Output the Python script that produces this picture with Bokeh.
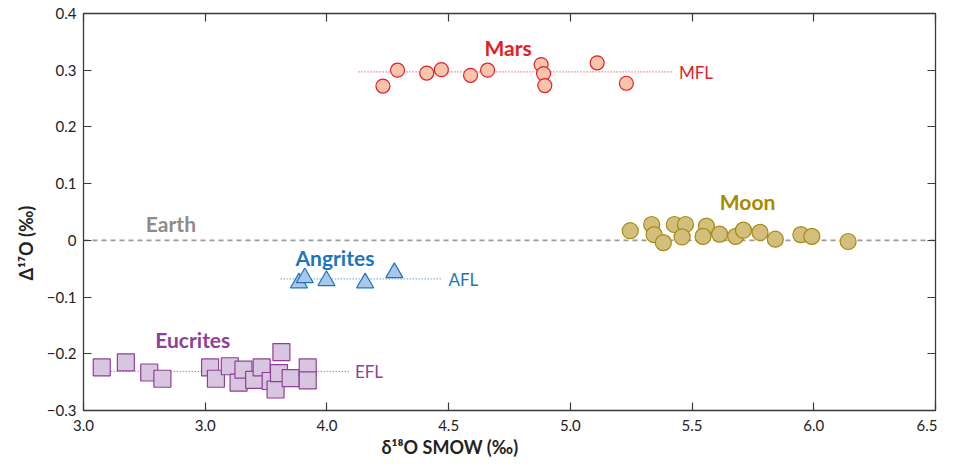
from bokeh.plotting import figure
from bokeh.models import Range1d, LinearAxis, FixedTicker, Label, Title
from bokeh.embed import file_html
from bokeh.resources import INLINE

# ---- data ----
mars_x = [4.23, 4.29, 4.41, 4.47, 4.59, 4.66, 4.88, 4.89, 4.895, 5.11, 5.23]
mars_y = [0.272, 0.300, 0.295, 0.301, 0.291, 0.300, 0.310, 0.294, 0.273, 0.313, 0.277]

moon_x = [5.246, 5.334, 5.344, 5.382, 5.427, 5.473, 5.459, 5.559, 5.545, 5.613,
          5.679, 5.711, 5.779, 5.842, 5.947, 5.992, 6.141]
moon_y = [0.017, 0.028, 0.010, -0.004, 0.028, 0.028, 0.006, 0.025, 0.007, 0.011,
          0.007, 0.018, 0.014, 0.002, 0.010, 0.007, -0.002]

angr_x = [3.885, 3.909, 3.998, 4.157, 4.277]
angr_y = [-0.075, -0.066, -0.071, -0.075, -0.057]

eucr_x = [3.075, 3.174, 3.270, 3.324, 3.520, 3.544, 3.601, 3.637, 3.657, 3.701,
          3.732, 3.769, 3.789, 3.803, 3.813, 3.851, 3.921, 3.921]
eucr_y = [-0.224, -0.215, -0.233, -0.244, -0.224, -0.244, -0.222, -0.251, -0.228, -0.246,
          -0.224, -0.248, -0.263, -0.234, -0.197, -0.243, -0.224, -0.247]

earth_x = [3.0, 6.5]
earth_y = [0.0, 0.0]
mfl_x = [4.13, 5.42]
mfl_y = [0.297, 0.297]
afl_x = [3.81, 4.47]
afl_y = [-0.068, -0.068]
efl_x = [3.05, 4.09]
efl_y = [-0.231, -0.231]

x_ticks = [3.0, 3.5, 4.0, 4.5, 5.0, 5.5, 6.0, 6.5]
x_tick_labels = ["3.0", "3.0", "4.0", "4.5", "5.0", "5.5", "6.0", "6.5"]
y_ticks = [0.4, 0.3, 0.2, 0.1, 0.0, -0.1, -0.2, -0.3]
y_tick_labels = ["0.4", "0.3", "0.2", "0.1", "0", "\u22120.1", "\u22120.2", "\u22120.3"]

x_title = "\u03b4\u00b9\u2078O SMOW (\u2030)"
y_title = "\u0394\u00b9\u2077O (\u2030)"

FONT = "Lato"
RED, RED_FILL = "#E31E25", "#F9C4AC"
GOLD, GOLD_FILL, GOLD_LINE = "#A68A00", "#D4BE7C", "#A38A12"
BLUE, BLUE_FILL = "#1C75BC", "#A9C7E8"
PURP, PURP_FILL = "#903F98", "#D8C5E0"
GRAY = "#8C8C8C"
INK = "#222222"

p = figure(width=937, height=457, output_backend="svg", toolbar_location=None,
           x_range=Range1d(3.0, 6.5), y_range=Range1d(-0.3, 0.4),
           min_border_left=83, min_border_right=2, min_border_top=13, min_border_bottom=47)
p.grid.visible = False
p.outline_line_color = "#3a3a3a"
p.outline_line_width = 1.3
p.background_fill_color = "white"
p.border_fill_color = "white"

for ax in (p.xaxis[0], p.yaxis[0]):
    ax.axis_line_color = None
    ax.major_tick_in = 8
    ax.major_tick_out = 0
    ax.minor_tick_line_color = None
    ax.major_tick_line_color = "#3a3a3a"
    ax.major_tick_line_width = 1.2
    ax.major_label_text_font = FONT
    ax.major_label_text_font_size = "15px"
    ax.major_label_text_color = INK

p.xaxis[0].ticker = FixedTicker(ticks=x_ticks)
p.xaxis[0].major_label_overrides = dict(zip(x_ticks, x_tick_labels))
p.xaxis[0].major_label_standoff = 9
p.yaxis[0].ticker = FixedTicker(ticks=y_ticks)
p.yaxis[0].major_label_overrides = dict(zip(y_ticks, y_tick_labels))
p.yaxis[0].major_label_standoff = 7

# inner ticks on right and top (labels left empty)
def tick_axis(ticks):
    return LinearAxis(ticker=FixedTicker(ticks=ticks),
                      major_label_overrides={t: "" for t in ticks},
                      major_label_text_font_size="8px", major_label_text_alpha=0,
                      major_label_standoff=0, axis_line_color=None, major_tick_in=8,
                      major_tick_out=0, minor_tick_line_color=None,
                      major_tick_line_color="#3a3a3a", major_tick_line_width=1.2)

p.add_layout(tick_axis(y_ticks), "right")
p.add_layout(tick_axis(x_ticks), "above")

# axis titles as Titles so they can sit off-centre like the reference
p.add_layout(Title(text=x_title, align="left", offset=298, standoff=0,
                   text_font=FONT, text_font_size="18px", text_font_style="bold",
                   text_color=INK), "below")
p.add_layout(Title(text=y_title, align="left", offset=130, standoff=14,
                   text_font=FONT, text_font_size="18px", text_font_style="bold",
                   text_color=INK), "left")

# reference lines
p.line(earth_x, earth_y, line_color="#9A9A9A", line_width=1.6, line_dash="5 4")
p.line(mfl_x, mfl_y, line_color=RED, line_width=1, line_dash="1 2")
p.line(afl_x, afl_y, line_color=BLUE, line_width=1, line_dash="1 2")
p.line(efl_x, efl_y, line_color=PURP, line_width=1, line_dash="1 2")

# markers
p.scatter(mars_x, mars_y, marker="circle", size=14, fill_color=RED_FILL,
          line_color=RED, line_width=1.2)
p.scatter(moon_x, moon_y, marker="circle", size=16, fill_color=GOLD_FILL,
          line_color=GOLD_LINE, line_width=1.2)
p.scatter(angr_x, angr_y, marker="triangle", size=17, fill_color=BLUE_FILL,
          line_color=BLUE, line_width=1.2)
p.scatter(eucr_x, eucr_y, marker="square", size=17, fill_color=PURP_FILL,
          line_color=PURP, line_width=1.2)

def lab(x, y, text, color, bold=True, size="21px", align="center"):
    p.add_layout(Label(x=x, y=y, text=text, text_color=color, text_font=FONT,
                       text_font_size=size, text_font_style="bold" if bold else "normal",
                       text_align=align, text_baseline="middle"))

lab(4.744, 0.340, "Mars", RED)
lab(5.728, 0.069, "Moon", GOLD)
lab(3.359, 0.029, "Earth", GRAY)
lab(4.033, -0.031, "Angrites", BLUE)
lab(3.449, -0.175, "Eucrites", PURP)
lab(5.446, 0.296, "MFL", RED, bold=False, size="17px", align="left")
lab(4.499, -0.0696, "AFL", BLUE, bold=False, size="17px", align="left")
lab(4.115, -0.231, "EFL", PURP, bold=False, size="17px", align="left")

open("out.html", "w").write(file_html(p, INLINE))
